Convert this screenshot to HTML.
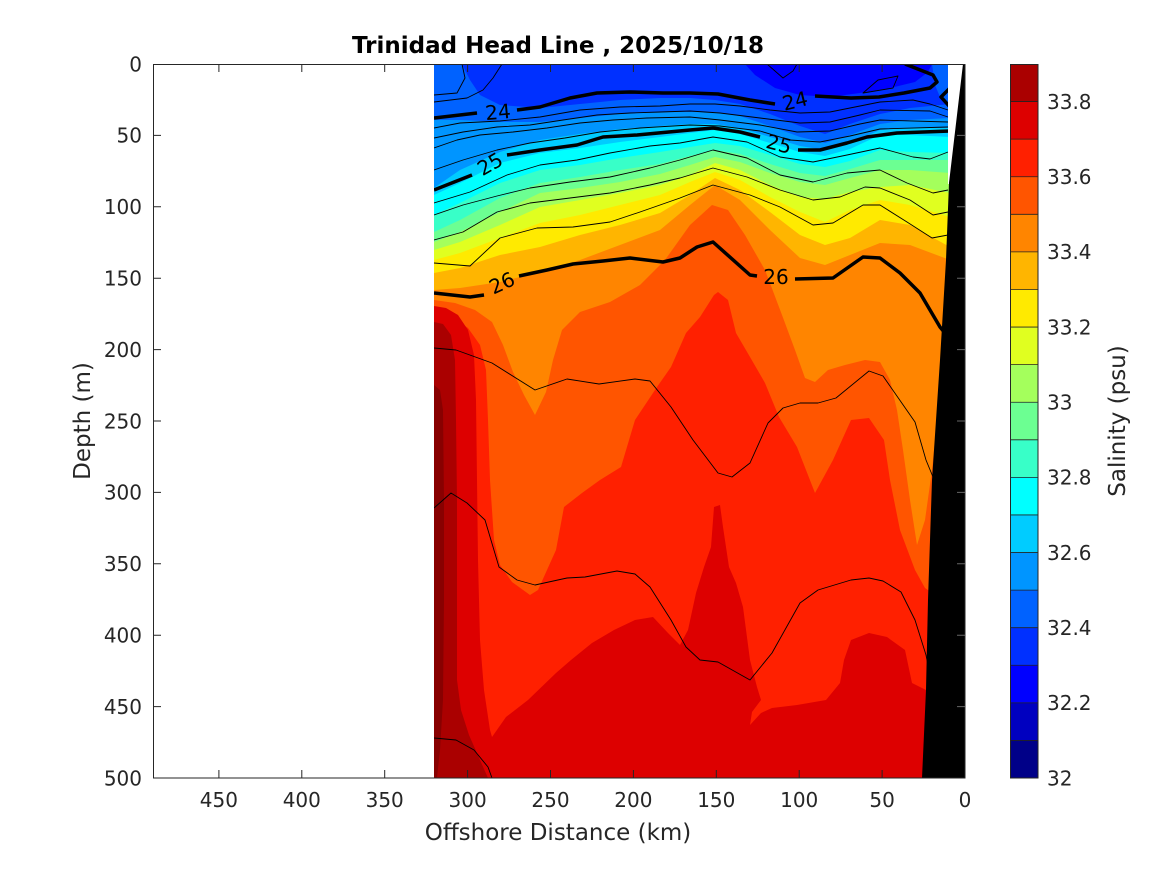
<!DOCTYPE html>
<html><head><meta charset="utf-8"><style>
html,body{margin:0;padding:0;background:#fff;}
svg{display:block;}
text{font-family:"DejaVu Sans","Liberation Sans",sans-serif;}
</style></head><body>
<svg width="1167" height="875" viewBox="0 0 1167 875" xmlns="http://www.w3.org/2000/svg">
<rect width="1167" height="875" fill="#fff"/>
<defs><clipPath id="c"><rect x="434" y="64" width="516" height="714"/></clipPath></defs>
<g clip-path="url(#c)">
<rect x="434" y="64" width="516" height="714" fill="#0030ff"/>
<polygon fill="#0000ff" points="745,64 755,75 775,88 800,95 830,97 860,93 890,88 915,82 928,72 932,64"/>
<polygon fill="#0062ff" points="932,64 948,64 948,105 940,97 935,85"/>
<polygon fill="#0062ff" points="434,64 462,64 470,80 480,95 500,105 540,108 580,104 620,100 660,98 690,98 715,100 740,104 770,114 800,126 825,134 850,124 880,114 910,108 950,104 950,778 434,778"/>
<polygon fill="#0095ff" points="434,120 460,120 500,122 540,122 580,118 620,114 660,112 690,112 715,112 740,116 770,126 800,137 825,143 850,135 880,124 910,120 950,118 950,778 434,778"/>
<polygon fill="#00ccff" points="434,188 460,170 500,152 540,140 580,134 620,129 660,126 690,124 715,124 740,128 770,137 800,146 825,150 850,143 880,130 910,128 950,128 950,778 434,778"/>
<polygon fill="#00ffff" points="434,195 460,183 500,163 540,153 580,148 620,142 660,137 690,133 715,130 740,134 770,143 800,152 825,156 850,149 880,135 910,135 950,137 950,778 434,778"/>
<polygon fill="#38ffc8" points="434,215 460,203 500,183 540,170 580,165 620,158 660,152 690,147 715,143 740,146 770,155 800,164 825,167 850,161 880,150 910,152 950,153 950,778 434,778"/>
<polygon fill="#6cff92" points="434,232 460,220 500,198 540,183 580,177 620,170 660,164 690,156 715,150 740,154 770,164 800,173 825,176 850,169 880,160 910,160 950,160 950,778 434,778"/>
<polygon fill="#a4ff5c" points="434,242 460,232 500,212 540,193 580,188 620,182 660,174 690,165 715,157 740,162 770,173 800,182 825,185 850,178 880,170 910,170 950,173 950,778 434,778"/>
<polygon fill="#e0ff20" points="434,250 460,242 500,225 540,207 580,200 620,193 660,185 690,175 715,163 740,170 770,185 800,197 825,199 850,192 880,187 910,185 950,193 950,778 434,778"/>
<polygon fill="#ffea00" points="434,260 460,253 500,238 540,223 580,215 620,205 660,195 690,182 715,172 740,180 770,197 800,212 825,222 850,210 880,200 910,205 950,217 950,778 434,778"/>
<polygon fill="#ffb500" points="434,273 460,268 500,255 540,247 580,235 620,225 660,213 690,195 715,178 740,190 770,212 800,235 825,245 850,238 880,220 910,225 950,247 950,778 434,778"/>
<polygon fill="#ff8500" points="434,290 460,288 500,282 540,272 580,260 620,245 660,230 690,205 715,185 740,200 770,230 800,258 825,265 850,255 880,243 910,245 950,260 950,778 434,778"/>
<polygon fill="#ff5500" points="434,300 455,303 475,310 492,322 503,345 513,372 524,395 535,415 546,392 553,360 562,330 580,312 610,302 640,285 665,260 690,225 712,205 728,210 745,235 765,270 782,315 795,350 805,378 815,382 828,370 845,365 865,360 880,362 890,380 897,410 903,450 910,500 917,545 925,520 932,470 937,420 942,360 946,320 950,300 950,778 434,778"/>
<polygon fill="#ff2000" points="434,312 452,317 468,328 480,345 486,370 488,420 490,480 494,540 500,565 512,582 530,595 538,590 556,550 564,507 582,493 600,480 621,467 635,420 657,387 671,367 686,333 700,317 714,295 718,292 728,300 736,333 750,357 765,383 779,417 797,447 815,493 833,460 851,420 869,418 884,440 890,480 900,530 915,570 925,588 935,595 950,600 950,778 434,778"/>
<polygon fill="#dd0000" points="434,306 446,308 458,315 468,330 474,355 476,400 477,480 478,560 480,640 484,690 490,730 492,737 506,717 528,700 556,673 571,660 592,643 614,630 635,620 653,617 668,633 680,645 688,630 696,593 704,567 711,547 714,507 720,505 723,527 729,567 736,583 743,607 750,660 757,687 761,700 752,712 750,725 761,713 772,708 797,705 826,700 840,683 844,660 851,640 869,633 887,637 905,650 912,683 926,690 950,690 950,778 434,778"/>
<polygon fill="#aa0000" points="434,322 443,324 451,335 455,360 456,420 457,500 457,600 457,680 461,710 469,735 480,760 488,778 434,778"/>
<polygon fill="#880000" points="434,385 440,390 443,410 444,500 444,600 443,700 440,750 437,778 434,778"/>

<g fill="none" stroke="#000" stroke-width="0.9" stroke-linejoin="round">
<polyline points="434,95 457,93 465,78 462,64"/>
<polyline points="434,102 467,98 483,90 493,78 502,64"/>
<polyline points="767,64 783,78 793,71 797,64"/>
<polygon points="863,93 878,80 898,76 893,88"/>
<polyline points="434,128 460,123 500,121 540,117 580,110 620,107 660,106 690,104 715,104 740,106 770,110 800,113 830,112 860,106 880,102 913,100 930,104 948,110"/>
<polyline points="434,138 463,132 497,127 530,125 563,120 597,115 630,113 660,112 690,111 720,113 760,118 800,123 830,122 860,115 880,110 930,111 948,117"/>
<polyline points="434,148 457,140 480,135 513,132 547,128 580,123 613,120 647,118 690,117 720,120 760,125 797,132 830,131 860,124 880,120 948,122"/>
<polyline points="434,170 463,160 497,150 530,143 565,138 600,132 640,128 690,125 720,126 760,131 790,140 820,142 850,136 880,129 948,127"/>
<polyline points="434,203 470,192 507,175 540,165 577,160 610,153 650,146 680,143 713,137 747,142 780,157 813,162 847,155 880,148 913,157 930,159 948,152"/>
<polyline points="434,215 463,205 497,196 530,188 570,182 610,177 650,168 680,160 713,150 747,158 780,175 813,182 847,173 880,170 907,183 933,193 948,190"/>
<polyline points="434,240 463,232 497,212 530,203 570,198 610,193 650,185 680,178 713,168 747,177 780,190 813,200 840,197 865,187 880,188 910,200 933,215 948,212"/>
<polyline points="434,263 470,266 500,238 537,228 573,227 610,222 640,212 680,198 713,185 750,195 780,207 813,225 833,223 863,205 880,205 907,222 932,238 948,235"/>
<polyline points="434,348 456,350 492,363 535,390 567,379 599,384 635,379 650,381 671,407 693,440 718,473 732,477 750,463 768,423 783,408 800,403 818,403 836,398 869,371 883,376 915,422 926,460 933,477 936,485"/>
<polyline points="434,508 451,493 467,503 485,520 499,567 517,580 535,585 567,578 585,577 617,571 635,574 650,587 671,620 686,647 700,660 718,662 750,680 772,653 800,603 818,590 851,580 869,578 883,581 901,592 915,620 926,655 928,665"/>
<polyline points="434,738 456,740 474,750 488,767 492,778"/>
</g>
<g fill="none" stroke="#000" stroke-width="3.5" stroke-linejoin="round" stroke-linecap="butt">
<polyline points="434,118 477,113"/>
<polyline points="517,110 540,107 570,98 597,93 630,92 663,93 690,93 718,94 750,100 775,104"/>
<polyline points="815,96 851,98 879,97 904,93 930,88 937,82 933,75 905,64"/>
<polyline points="950,88 941,97 950,107"/>
<polyline points="434,190 472,175"/>
<polyline points="507,155 540,150 577,145 603,137 637,135 690,130 713,128 740,132 760,137"/>
<polyline points="798,150 820,150 847,143 867,137 897,133 950,131"/>
<polyline points="434,293 470,297 484,295"/>
<polyline points="519,276 547,270 573,264 603,261 630,258 663,262 680,258 697,247 713,242 750,275 757,276"/>
<polyline points="795,279 833,278 863,257 880,258 900,273 920,293 940,327 945,333"/>
</g>
<g font-size="20" fill="#000" text-anchor="middle">
<text x="498" y="119" transform="rotate(-5 498 112)">24</text>
<text x="795" y="108" transform="rotate(-14 795 101)">24</text>
<text x="490" y="171" transform="rotate(-30 490 164)">25</text>
<text x="779" y="151" transform="rotate(15 779 144)">25</text>
<text x="502" y="290" transform="rotate(-25 502 283)">26</text>
<text x="776" y="284">26</text>
</g>
</g>
<polygon fill="#fff" points="948,64 964,64 949,184 948,184"/>
<polygon fill="#000" points="963,64 965,64 965,778 922,778 926,690 928,600 932,480 940,360 946,260 949,183"/>

<g stroke="#262626" stroke-width="1" fill="none">
<rect x="153.5" y="64.5" width="811.5" height="713.5"/>
<path d="M218.9 778v-8M301.8 778v-8M384.7 778v-8M467.6 778v-8M550.5 778v-8M633.4 778v-8M716.3 778v-8M799.2 778v-8M882.1 778v-8M218.9 64v8M301.8 64v8M384.7 64v8M467.6 64v8M550.5 64v8M633.4 64v8M716.3 64v8M799.2 64v8M882.1 64v8"/>
<path d="M153 135.4h8M153 206.8h8M153 278.2h8M153 349.6h8M153 421h8M153 492.4h8M153 563.8h8M153 635.2h8M153 706.6h8"/>
</g>
<g stroke="#666" stroke-width="1"><path d="M965 135.4h-8M965 206.8h-8M965 278.2h-8M965 349.6h-8M965 421h-8M965 492.4h-8M965 563.8h-8M965 635.2h-8M965 706.6h-8"/></g>

<g font-size="20" fill="#262626" text-anchor="end">
<text x="142" y="71.3">0</text>
<text x="142" y="142.7">50</text>
<text x="142" y="214.1">100</text>
<text x="142" y="285.5">150</text>
<text x="142" y="356.9">200</text>
<text x="142" y="428.3">250</text>
<text x="142" y="499.7">300</text>
<text x="142" y="571.1">350</text>
<text x="142" y="642.5">400</text>
<text x="142" y="713.9">450</text>
<text x="142" y="785.3">500</text>
</g>
<g font-size="20" fill="#262626" text-anchor="middle">
<text x="218.9" y="807">450</text>
<text x="301.8" y="807">400</text>
<text x="384.7" y="807">350</text>
<text x="467.6" y="807">300</text>
<text x="550.5" y="807">250</text>
<text x="633.4" y="807">200</text>
<text x="716.3" y="807">150</text>
<text x="799.2" y="807">100</text>
<text x="882.1" y="807">50</text>
<text x="965" y="807">0</text>
</g>
<text x="558" y="840" font-size="23" fill="#262626" text-anchor="middle">Offshore Distance (km)</text>
<text x="90" y="421" font-size="23" fill="#262626" text-anchor="middle" transform="rotate(-90 90 421)">Depth (m)</text>
<text x="558" y="53" font-size="23" font-weight="bold" fill="#000" text-anchor="middle">Trinidad Head Line , 2025/10/18</text>

<g>
<rect x="1010" y="64" width="28" height="37.58" fill="#aa0000"/>
<rect x="1010" y="101.58" width="28" height="37.58" fill="#dd0000"/>
<rect x="1010" y="139.16" width="28" height="37.58" fill="#ff2000"/>
<rect x="1010" y="176.74" width="28" height="37.58" fill="#ff5500"/>
<rect x="1010" y="214.32" width="28" height="37.58" fill="#ff8500"/>
<rect x="1010" y="251.9" width="28" height="37.58" fill="#ffb500"/>
<rect x="1010" y="289.48" width="28" height="37.58" fill="#ffea00"/>
<rect x="1010" y="327.06" width="28" height="37.58" fill="#e0ff20"/>
<rect x="1010" y="364.64" width="28" height="37.58" fill="#a4ff5c"/>
<rect x="1010" y="402.22" width="28" height="37.58" fill="#6cff92"/>
<rect x="1010" y="439.8" width="28" height="37.58" fill="#38ffc8"/>
<rect x="1010" y="477.38" width="28" height="37.58" fill="#00ffff"/>
<rect x="1010" y="514.96" width="28" height="37.58" fill="#00ccff"/>
<rect x="1010" y="552.54" width="28" height="37.58" fill="#0095ff"/>
<rect x="1010" y="590.12" width="28" height="37.58" fill="#0062ff"/>
<rect x="1010" y="627.7" width="28" height="37.58" fill="#0030ff"/>
<rect x="1010" y="665.28" width="28" height="37.58" fill="#0000ff"/>
<rect x="1010" y="702.86" width="28" height="37.58" fill="#0000c0"/>
<rect x="1010" y="740.44" width="28" height="37.58" fill="#000088"/>
</g>
<g stroke="#222" stroke-width="0.8">
<path d="M1010 101.58h28M1010 139.16h28M1010 176.74h28M1010 214.32h28M1010 251.9h28M1010 289.48h28M1010 327.06h28M1010 364.64h28M1010 402.22h28M1010 439.8h28M1010 477.38h28M1010 514.96h28M1010 552.54h28M1010 590.12h28M1010 627.7h28M1010 665.28h28M1010 702.86h28M1010 740.44h28"/>
</g>
<rect x="1010.5" y="64.5" width="27.5" height="713.5" fill="none" stroke="#262626" stroke-width="1"/>
<g font-size="20" fill="#262626">
<text x="1047" y="108.9">33.8</text>
<text x="1047" y="184">33.6</text>
<text x="1047" y="259.2">33.4</text>
<text x="1047" y="334.4">33.2</text>
<text x="1047" y="409.5">33</text>
<text x="1047" y="484.7">32.8</text>
<text x="1047" y="559.8">32.6</text>
<text x="1047" y="635">32.4</text>
<text x="1047" y="710.2">32.2</text>
<text x="1047" y="785.3">32</text>
</g>
<text x="1125" y="421" font-size="23" fill="#262626" text-anchor="middle" transform="rotate(-90 1125 421)">Salinity (psu)</text>
</svg>
</body></html>
